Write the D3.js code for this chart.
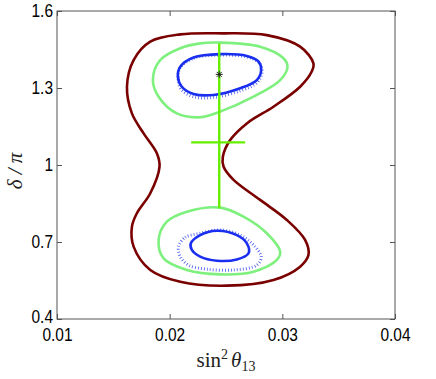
<!DOCTYPE html>
<meta charset="utf-8">
<head>
<script src="https://cdn.jsdelivr.net/npm/d3@7"></script>
<style>
  body { margin: 0; background: #fff; }
  .tick text { font-family: "Liberation Sans", Arial, sans-serif; }
</style>
</head>
<body>
<div id="chart"></div>
<script>
// axis ticks
var xTicks = [0.01, 0.02, 0.03, 0.04];
var yTicks = [0.4, 0.7, 1, 1.3, 1.6];

// outer contour (dark red) [sin^2 theta13, delta/pi]
var outer = [
  [0.02463, 1.513], [0.02862, 1.506], [0.03158, 1.461], [0.03276, 1.396], [0.03261, 1.364],
  [0.03158, 1.305], [0.02921, 1.227], [0.02685, 1.162], [0.02537, 1.097], [0.02472, 1.032],
  [0.02478, 0.994], [0.02567, 0.942], [0.02803, 0.864], [0.03040, 0.786], [0.03202, 0.708],
  [0.03232, 0.649], [0.03158, 0.604], [0.02921, 0.552], [0.02508, 0.530], [0.02094, 0.545],
  [0.01828, 0.591], [0.01680, 0.682], [0.01665, 0.760], [0.01709, 0.812], [0.01828, 0.890],
  [0.01910, 0.994], [0.01887, 1.045], [0.01769, 1.123], [0.01665, 1.201], [0.01621, 1.305],
  [0.01680, 1.409], [0.01828, 1.481], [0.02094, 1.509]
];

// light green contours
var greenTop = [
  [0.02448, 1.477], [0.02803, 1.461], [0.03010, 1.416], [0.03046, 1.383], [0.02981, 1.331],
  [0.02744, 1.266], [0.02448, 1.208], [0.02271, 1.186], [0.02064, 1.201], [0.01902, 1.266],
  [0.01851, 1.331], [0.01916, 1.409], [0.02094, 1.455], [0.02271, 1.474]
];
var greenBot = [
  [0.02448, 0.834], [0.02153, 0.818], [0.01975, 0.779], [0.01902, 0.708], [0.01946, 0.636],
  [0.02153, 0.591], [0.02448, 0.574], [0.02744, 0.584], [0.02951, 0.630], [0.02981, 0.662],
  [0.02862, 0.734], [0.02655, 0.799]
];

// blue solid contours
var blueTop = [
  [0.02094, 1.383], [0.02212, 1.419], [0.02448, 1.432], [0.02685, 1.425], [0.02789, 1.403],
  [0.02812, 1.370], [0.02774, 1.331], [0.02626, 1.299], [0.02389, 1.273], [0.02212, 1.277],
  [0.02108, 1.305], [0.02073, 1.344]
];
var blueBot = [
  [0.02188, 0.695], [0.02271, 0.727], [0.02419, 0.744], [0.02596, 0.727], [0.02685, 0.695],
  [0.02700, 0.656], [0.02596, 0.632], [0.02419, 0.627], [0.02271, 0.643], [0.02197, 0.669]
];

// blue dotted contours
var dotTop = [
  [0.02094, 1.380], [0.02212, 1.416], [0.02448, 1.428], [0.02685, 1.421], [0.02795, 1.398],
  [0.02820, 1.365], [0.02780, 1.323], [0.02626, 1.289], [0.02389, 1.263], [0.02212, 1.266],
  [0.02100, 1.296], [0.02075, 1.340]
];
var dotBot = [
  [0.02079, 0.682], [0.02138, 0.718], [0.02271, 0.734], [0.02448, 0.747], [0.02626, 0.727],
  [0.02744, 0.688], [0.02812, 0.643], [0.02774, 0.610], [0.02567, 0.591], [0.02330, 0.594],
  [0.02167, 0.610], [0.02094, 0.643]
];

// best fit point and error bars
var bestFit = [0.02440, 1.353];
var errX = [0.02191, 0.02670], errY = [0.831, 1.474], errCenter = [0.02440, 1.088];

var W = 436, H = 379;
var margin = {top: 11, right: 41, bottom: 60, left: 57};
var width = W - margin.left - margin.right, height = H - margin.top - margin.bottom;

var svg = d3.select("#chart").append("svg").attr("width", W).attr("height", H);
var g = svg.append("g").attr("transform", "translate(" + margin.left + "," + margin.top + ")");

var x = d3.scaleLinear().domain([0.01, 0.04]).range([0, width]);
var y = d3.scaleLinear().domain([0.4, 1.6]).range([height, 0]);

var line = d3.line().x(function(d){ return x(d[0]); }).y(function(d){ return y(d[1]); })
  .curve(d3.curveCatmullRomClosed.alpha(0.5));

function contour(data, color, w, dash) {
  var p = g.append("path").datum(data).attr("d", line)
    .attr("fill", "none").attr("stroke", color).attr("stroke-width", w);
  if (dash) p.attr("stroke-dasharray", dash);
}

contour(outer, "#7a0000", 2.6);
contour(greenTop, "#7ef07e", 2.6);
contour(greenBot, "#7ef07e", 2.6);
contour(dotTop, "#4a5cf0", 3, "0.8 2.2");
contour(dotBot, "#4a5cf0", 3, "0.8 2.2");
contour(blueTop, "#1a2ef0", 2.6);
contour(blueBot, "#1a2ef0", 2.6);

// error bars
g.append("line").attr("x1", x(errCenter[0])).attr("x2", x(errCenter[0]))
  .attr("y1", y(errY[0])).attr("y2", y(errY[1]))
  .attr("stroke", "#66ee00").attr("stroke-width", 2.4);
g.append("line").attr("x1", x(errX[0])).attr("x2", x(errX[1]))
  .attr("y1", y(errCenter[1])).attr("y2", y(errCenter[1]))
  .attr("stroke", "#66ee00").attr("stroke-width", 2.4);

// star marker
var sx = x(bestFit[0]), sy = y(bestFit[1]), r = 3.5;
[0, 45, 90, 135].forEach(function(a) {
  var t = a * Math.PI / 180;
  g.append("line").attr("x1", sx - r * Math.cos(t)).attr("y1", sy - r * Math.sin(t))
    .attr("x2", sx + r * Math.cos(t)).attr("y2", sy + r * Math.sin(t))
    .attr("stroke", "#222").attr("stroke-width", 1);
});

// axes with inward ticks (box)
var sq = 0.86; // narrow the tick font a bit
var xAxis = g.append("g").attr("transform", "translate(0," + height + ")")
  .call(d3.axisBottom(x).tickValues(xTicks).tickSize(-5).tickPadding(9).tickFormat(d3.format(".2f")));
var yAxis = g.append("g")
  .call(d3.axisLeft(y).tickValues(yTicks).tickSize(-5).tickPadding(4).tickFormat(function(d){ return d; }));
g.append("g").call(d3.axisTop(x).tickValues(xTicks).tickSize(-5).tickFormat(""));
g.append("g").attr("transform", "translate(" + width + ",0)")
  .call(d3.axisRight(y).tickValues(yTicks).tickSize(-5).tickFormat(""));
g.selectAll(".domain").remove();
g.selectAll(".tick line").attr("stroke", "#555");
[xAxis, yAxis].forEach(function(ax) {
  ax.selectAll(".tick text")
    .style("font-size", "18px").attr("fill", "#000")
    .attr("x", function(){ return (+d3.select(this).attr("x") || 0) / sq; })
    .attr("transform", "scale(" + sq + ",1)");
});
// keep the lowest y label clear of the first x label
yAxis.selectAll(".tick").filter(function(d){ return d === 0.4; }).select("text").attr("y", -2);

g.append("rect").attr("width", width).attr("height", height)
  .attr("fill", "none").attr("stroke", "#555").attr("stroke-width", 1);

// axis titles
var xl = svg.append("text").attr("x", margin.left + x(0.025)).attr("y", 367)
  .attr("text-anchor", "middle").attr("font-family", "'Liberation Serif', 'DejaVu Serif', serif")
  .attr("font-size", "21px").attr("fill", "#222");
xl.append("tspan").text("sin");
xl.append("tspan").attr("font-size", "14px").attr("dy", "-8").text("2");
xl.append("tspan").attr("dy", "8").attr("dx", "3").attr("font-style", "italic").text("θ");
xl.append("tspan").attr("font-size", "14px").attr("dy", "4").text("13");

svg.append("text").attr("transform", "translate(22,171) rotate(-90)")
  .attr("text-anchor", "middle").attr("font-family", "'Liberation Serif', 'DejaVu Serif', serif")
  .attr("font-size", "21px").attr("font-style", "italic").attr("fill", "#222")
  .text("δ / π");
</script>
</body>
</html>
